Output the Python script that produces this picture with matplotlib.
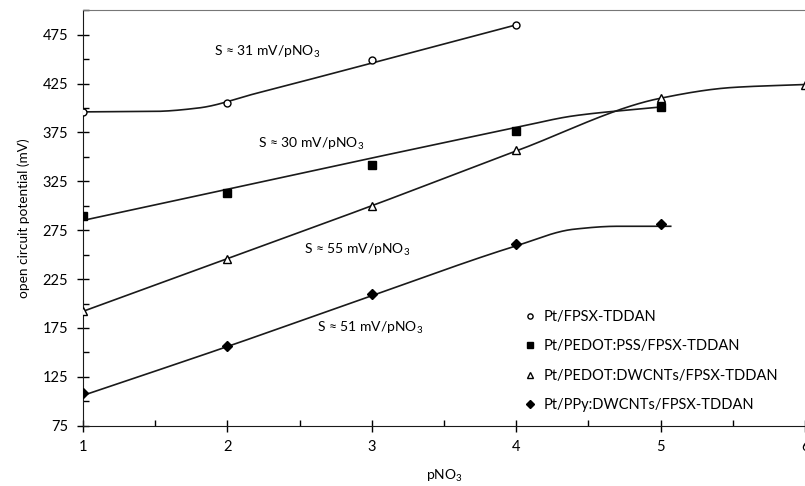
import numpy as np
import matplotlib
matplotlib.use('Agg')
import matplotlib.pyplot as plt
from matplotlib.ticker import MultipleLocator

plt.rcParams['font.family'] = ['Lato', 'DejaVu Sans']
plt.rcParams['mathtext.fontset'] = 'custom'
plt.rcParams['mathtext.rm'] = 'Lato'
plt.rcParams['mathtext.it'] = 'Lato:italic'

# measured points
pno3 = [1, 2, 3, 4, 5, 6]
labels = ['Pt/FPSX-TDDAN', 'Pt/PEDOT:PSS/FPSX-TDDAN',
          'Pt/PEDOT:DWCNTs/FPSX-TDDAN', 'Pt/PPy:DWCNTs/FPSX-TDDAN']
ocp_fpsx = [396, 405, 449, 485]
ocp_pss = [290, 313, 342, 376, 401]
ocp_dwcnt = [192, 246, 300, 357, 410, 424]
ocp_ppy = [108, 157, 210, 261, 281]

# nodes of the hand-drawn trend curves
curve_fpsx_x = [1, 1.5, 1.8, 2.2, 4]
curve_fpsx_y = [396, 396.5, 400, 415, 485]
curve_pss_x = [1, 4, 4.4, 5]
curve_pss_y = [285, 380, 392, 401]
curve_dwcnt_x = [1, 2, 3, 4, 5, 5.5, 6]
curve_dwcnt_y = [192, 246, 300, 356, 410, 421, 424]
curve_ppy_x = [1, 2, 3, 4, 4.4, 4.7, 5.07]
curve_ppy_y = [106, 156, 208, 259, 276, 279, 279]

slopes = ['S ≈ 31 mV/pNO$_3$', 'S ≈ 30 mV/pNO$_3$',
          'S ≈ 55 mV/pNO$_3$', 'S ≈ 51 mV/pNO$_3$']
slope_x = [1.91, 2.21, 2.53, 2.62]
slope_y = [457, 363, 255, 175]


def smooth(xs, ys, n=60):
    # monotone cubic (Fritsch-Carlson) through the curve nodes
    x = np.asarray(xs, float)
    y = np.asarray(ys, float)
    h = np.diff(x)
    d = np.diff(y) / h
    m = np.zeros_like(y)
    m[0], m[-1] = d[0], d[-1]
    for k in range(1, len(x) - 1):
        if d[k - 1] * d[k] > 0:
            w1 = 2 * h[k] + h[k - 1]
            w2 = h[k] + 2 * h[k - 1]
            m[k] = (w1 + w2) / (w1 / d[k - 1] + w2 / d[k])
    out_x, out_y = [], []
    for k in range(len(x) - 1):
        t = np.linspace(0, 1, n)
        h00 = 2 * t ** 3 - 3 * t ** 2 + 1
        h10 = t ** 3 - 2 * t ** 2 + t
        h01 = -2 * t ** 3 + 3 * t ** 2
        h11 = t ** 3 - t ** 2
        out_x.append(x[k] + t * h[k])
        out_y.append(h00 * y[k] + h10 * h[k] * m[k]
                     + h01 * y[k + 1] + h11 * h[k] * m[k + 1])
    return np.concatenate(out_x), np.concatenate(out_y)


fig = plt.figure(figsize=(8.05, 4.86), dpi=100)
ax = fig.add_axes([0.1031, 0.124, 0.8969, 0.855])

lc = '#1a1a1a'
for cx, cy in [(curve_fpsx_x, curve_fpsx_y), (curve_pss_x, curve_pss_y),
               (curve_dwcnt_x, curve_dwcnt_y), (curve_ppy_x, curve_ppy_y)]:
    sx, sy = smooth(cx, cy)
    ax.plot(sx, sy, color=lc, lw=1.2, zorder=2)

ax.plot(pno3[:4], ocp_fpsx, 'o', ms=5, mfc='white', mec='black', mew=1.0,
        ls='none', label=labels[0], zorder=3)
ax.plot(pno3[:5], ocp_pss, 's', ms=5.5, color='black', ls='none',
        label=labels[1], zorder=3)
ax.plot(pno3, ocp_dwcnt, '^', ms=6, mfc='white', mec='black', mew=1.0,
        ls='none', label=labels[2], zorder=3)
ax.plot(pno3[:5], ocp_ppy, 'D', ms=5.5, color='black', ls='none',
        label=labels[3], zorder=3)

for s, x, y in zip(slopes, slope_x, slope_y):
    ax.text(x, y, s, ha='left', va='center', fontsize=10)

ax.set_xlim(1, 6)
ax.set_ylim(75, 500)
ax.set_yticks(np.arange(75, 476, 50))
ax.xaxis.set_major_locator(MultipleLocator(1))
ax.xaxis.set_minor_locator(MultipleLocator(0.5))
ax.yaxis.set_minor_locator(MultipleLocator(25))
ax.tick_params(which='major', direction='inout', length=9, width=1,
               labelsize=10.5, pad=6)
ax.tick_params(which='minor', direction='in', length=4, width=1)

ax.spines['right'].set_visible(False)
ax.spines['top'].set_color('#777777')
ax.spines['left'].set_color(lc)
ax.spines['bottom'].set_color(lc)

ax.set_xlabel('pNO$_3$', fontsize=10, labelpad=10)
ax.set_ylabel('open circuit potential (mV)', fontsize=9.8, labelpad=9)

ax.legend(loc='upper left', bbox_to_anchor=(0.603, 0.293), borderaxespad=0,
          frameon=False, fontsize=10.5, markerscale=0.75, handlelength=0.8,
          handletextpad=0.5, labelspacing=1.06)

fig.savefig('out.png', dpi=100)
